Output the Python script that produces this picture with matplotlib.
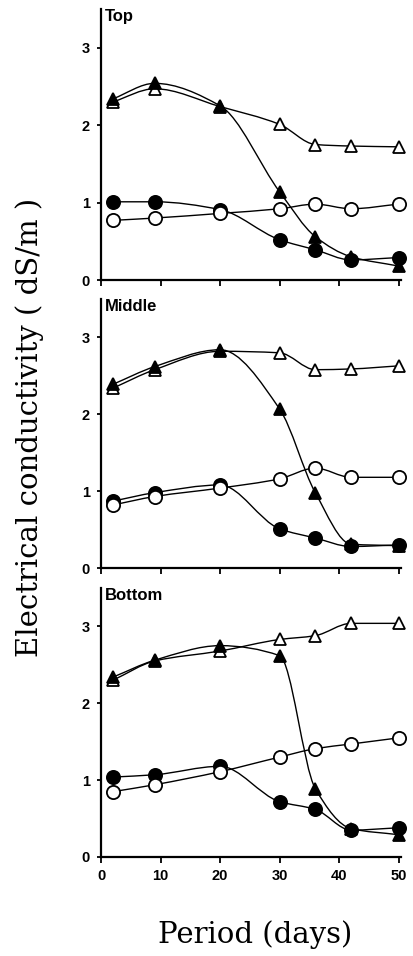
import matplotlib
matplotlib.use("Agg")
import matplotlib.pyplot as plt
from matplotlib.path import Path
import matplotlib.patches as patches
import numpy as np

days = [2, 9, 20, 30, 36, 42, 50]
panels = ["Top", "Middle", "Bottom"]

# electrical conductivity (dS/m), one list per series and per panel
open_tri = [
    [2.30, 2.47, 2.24, 2.01, 1.75, 1.73, 1.72],
    [2.34, 2.58, 2.82, 2.80, 2.58, 2.59, 2.63],
    [2.30, 2.55, 2.68, 2.83, 2.88, 3.04, 3.04],
]
filled_tri = [
    [2.34, 2.54, 2.25, 1.14, 0.56, 0.30, 0.18],
    [2.39, 2.62, 2.84, 2.07, 0.98, 0.31, 0.29],
    [2.34, 2.56, 2.75, 2.62, 0.89, 0.37, 0.29],
]
filled_circ = [
    [1.01, 1.01, 0.91, 0.52, 0.39, 0.26, 0.29],
    [0.87, 0.98, 1.08, 0.51, 0.39, 0.28, 0.30],
    [1.04, 1.07, 1.18, 0.72, 0.62, 0.35, 0.38],
]
open_circ = [
    [0.77, 0.80, 0.86, 0.92, 0.98, 0.92, 0.98],
    [0.82, 0.93, 1.04, 1.16, 1.30, 1.18, 1.18],
    [0.85, 0.94, 1.11, 1.30, 1.41, 1.47, 1.55],
]

x_ticks = [0, 10, 20, 30, 40, 50]
y_ticks = [0, 1, 2, 3]


def smooth_path(xs, ys):
    # monotone cubic through the points, drawn as bezier segments
    xs = np.asarray(xs, float)
    ys = np.asarray(ys, float)
    h = np.diff(xs)
    d = np.diff(ys) / h
    m = np.zeros_like(ys)
    m[0], m[-1] = d[0], d[-1]
    for i in range(1, len(xs) - 1):
        if d[i - 1] * d[i] <= 0:
            m[i] = 0
        else:
            w1 = 2 * h[i] + h[i - 1]
            w2 = h[i] + 2 * h[i - 1]
            m[i] = (w1 + w2) / (w1 / d[i - 1] + w2 / d[i])
    verts = [(xs[0], ys[0])]
    codes = [Path.MOVETO]
    for i in range(len(xs) - 1):
        verts += [(xs[i] + h[i] / 3, ys[i] + m[i] * h[i] / 3),
                  (xs[i + 1] - h[i] / 3, ys[i + 1] - m[i + 1] * h[i] / 3),
                  (xs[i + 1], ys[i + 1])]
        codes += [Path.CURVE4] * 3
    return Path(verts, codes)


W, H = 413, 956
fig = plt.figure(figsize=(W / 100, H / 100), dpi=100)

tick_font = dict(family="Liberation Sans", weight="bold", size=10.5)
# axes boxes in pixels: (x0, y_zero, y_top)
boxes = [(101, 280, 9), (101, 568, 299), (101, 857, 588)]

for k, name in enumerate(panels):
    x0, y0, y1 = boxes[k]
    ax = fig.add_axes([x0 / W, 1 - y0 / H, 300 / W, (y0 - y1) / H])
    ax.set_xlim(0, 50.4)
    ax.set_ylim(0, 3.5)
    for s in ["top", "right"]:
        ax.spines[s].set_visible(False)
    ax.spines["left"].set_linewidth(1.6)
    ax.spines["bottom"].set_linewidth(1.6)
    ax.set_xticks(x_ticks)
    ax.set_yticks(y_ticks)
    ax.tick_params(axis="x", direction="out", length=4, width=1.3, pad=5)
    ax.tick_params(axis="y", direction="out", length=3, width=1.3, pad=5)
    ax.set_yticklabels([str(v) for v in y_ticks], fontdict=tick_font)
    if k == 2:
        ax.set_xticklabels([str(v) for v in x_ticks], fontdict=tick_font)
    else:
        ax.set_xticklabels([])

    series = [
        (open_tri[k], "^", "white", 8.5),
        (filled_tri[k], "^", "black", 8.5),
        (filled_circ[k], "o", "black", 9.5),
        (open_circ[k], "o", "white", 9.5),
    ]
    for vals, mk, fc, ms in series:
        ax.add_patch(patches.PathPatch(smooth_path(days, vals), fill=False,
                                       edgecolor="black", linewidth=1.0,
                                       zorder=2))
        ax.plot(days, vals, linestyle="none", marker=mk, markersize=ms,
                markerfacecolor=fc, markeredgecolor="black",
                markeredgewidth=1.3, zorder=3, clip_on=False)

    ax.text(0.012, 1.0, name, transform=ax.transAxes, ha="left", va="top",
            fontfamily="Liberation Sans", fontweight="bold", fontsize=12)

fig.text(0.072, 0.553, "Electrical conductivity ( dS/m )", rotation=90,
         ha="center", va="center", fontfamily="DejaVu Serif", fontsize=21)
fig.text(0.617, 0.022, "Period (days)", ha="center", va="center",
         fontfamily="DejaVu Serif", fontsize=21)

fig.savefig("out.png", dpi=100)
